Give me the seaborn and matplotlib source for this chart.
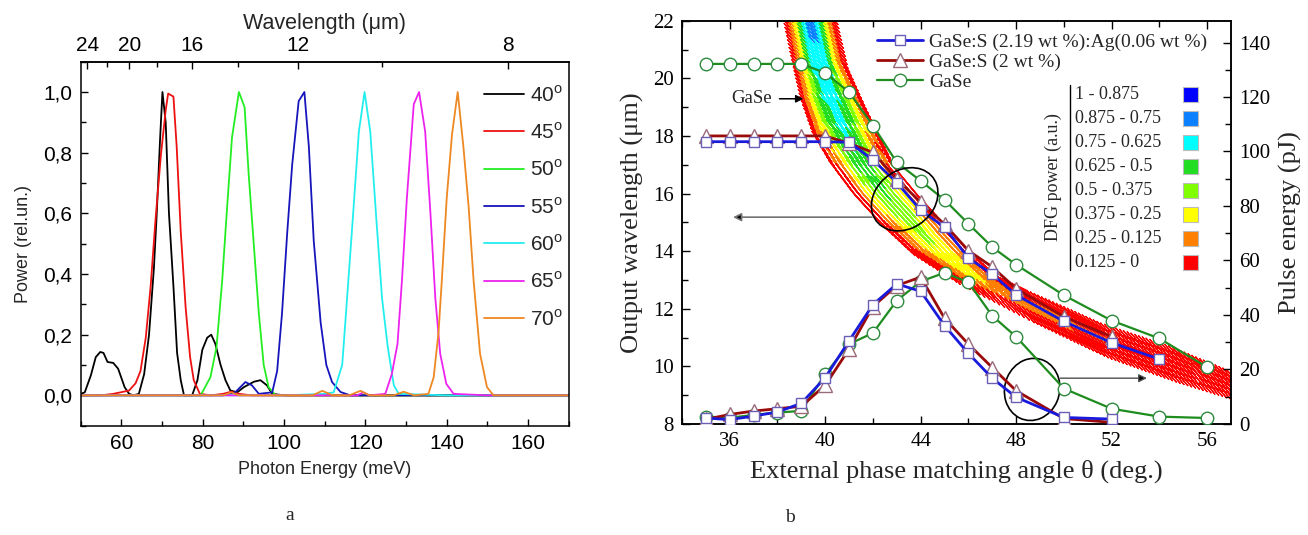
import numpy as np
import matplotlib
matplotlib.use("Agg")
import matplotlib.pyplot as plt
import seaborn as sns
from matplotlib.patches import Ellipse, Rectangle
from matplotlib.lines import Line2D
from matplotlib.ticker import MultipleLocator, FuncFormatter, FixedLocator

# ---------------- panel a: DFG spectra ----------------
angles_a = [40, 45, 50, 55, 60, 65, 70]
colors_a = ["#000000", "#ee1111", "#22ee22", "#1515bb", "#22eeee", "#ee22ee", "#ee8822"]

E40 = [50.0, 51.0, 52.5, 53.7, 54.8, 55.6, 56.6, 58.0, 59.2, 60.8, 61.9, 63.0, 64.3, 65.6, 66.8, 68.0,
       68.7, 69.5, 70.1, 70.9, 71.7, 72.8, 73.7, 74.6, 75.4, 77.4, 78.7, 79.9, 81.1, 82.1, 83.1, 84.4,
       85.6, 86.8, 88.5, 90.1, 92.6, 94.2, 95.8, 97.1, 100.0, 120.0, 140.0, 170.0]
P40 = [0.005, 0.01, 0.066, 0.126, 0.143, 0.14, 0.11, 0.107, 0.088, 0.027, 0.005, 0.0, 0.005, 0.07, 0.2, 0.42,
       0.6, 0.84, 1.0, 0.9, 0.6, 0.36, 0.14, 0.05, 0.0, 0.0, 0.05, 0.15, 0.19, 0.2, 0.17, 0.1,
       0.05, 0.016, 0.01, 0.027, 0.045, 0.05, 0.033, 0.005, 0.0, 0.0, 0.0, 0.0]

E45 = [50.0, 55.0, 58.0, 59.8, 61.9, 63.5, 64.7, 66.0, 67.2, 68.4, 69.7, 70.9, 71.5, 72.8, 73.6, 74.6,
       75.8, 76.9, 77.8, 79.3, 82.0, 85.0, 87.0, 89.0, 92.0, 100.0, 120.0, 140.0, 170.0]
P45 = [0.0, 0.0, 0.005, 0.01, 0.016, 0.04, 0.08, 0.19, 0.36, 0.58, 0.79, 0.94, 0.995, 0.985, 0.82, 0.54,
       0.29, 0.126, 0.05, 0.005, 0.0, 0.005, 0.012, 0.005, 0.0, 0.0, 0.0, 0.0, 0.0]

E50 = [50.0, 60.0, 70.0, 79.5, 81.9, 83.4, 84.8, 86.0, 87.2, 88.9, 90.3, 91.3, 92.6, 93.8, 95.0, 96.2,
       97.9, 110.0, 130.0, 150.0, 170.0]
P50 = [0.0, 0.0, 0.0, 0.0, 0.06, 0.16, 0.38, 0.62, 0.85, 1.0, 0.95, 0.73, 0.49, 0.27, 0.10, 0.027,
       0.0, 0.0, 0.0, 0.0, 0.0]

E55 = [50.0, 70.0, 85.0, 88.0, 90.5, 92.1, 93.8, 97.1, 98.3, 99.5, 100.8, 102.0, 103.6, 105.0, 106.1, 107.3,
       109.0, 110.4, 111.8, 113.9, 116.3, 130.0, 150.0, 170.0]
P55 = [0.0, 0.0, 0.0, 0.01, 0.044, 0.033, 0.005, 0.01, 0.08, 0.27, 0.54, 0.76, 0.97, 1.0, 0.82, 0.51,
       0.24, 0.10, 0.044, 0.011, 0.0, 0.0, 0.0, 0.0]

E60 = [50.0, 80.0, 100.0, 110.0, 112.2, 114.3, 115.5, 117.0, 118.4, 119.8, 121.2, 122.7, 124.1, 125.5,
       127.0, 128.2, 140.0, 170.0]
P60 = [0.0, 0.0, 0.0, 0.005, 0.01, 0.10, 0.32, 0.6, 0.87, 1.0, 0.87, 0.58, 0.32, 0.16,
       0.033, 0.005, 0.0, 0.0]

E65 = [50.0, 80.0, 100.0, 118.0, 119.5, 121.0, 124.9, 126.5, 127.9, 129.0, 130.2, 131.9, 133.2, 134.7,
       136.0, 137.2, 138.4, 139.9, 141.7, 150.0, 170.0]
P65 = [0.0, 0.0, 0.0, 0.0, 0.01, 0.0, 0.005, 0.07, 0.17, 0.38, 0.65, 0.96, 1.0, 0.87,
       0.6, 0.32, 0.137, 0.038, 0.005, 0.0, 0.0]

E70 = [50.0, 70.0, 85.0, 87.0, 89.0, 100.0, 107.0, 109.4, 112.0, 116.0, 118.8, 121.0, 127.0, 129.4, 132.0,
       135.5, 136.8, 138.0, 138.8, 140.0, 141.3, 142.7, 144.1, 145.4, 146.6, 148.2, 149.9, 151.5, 160.0, 170.0]
P70 = [0.0, 0.0, 0.0, 0.01, 0.0, 0.0, 0.0, 0.015, 0.0, 0.0, 0.015, 0.0, 0.0, 0.012, 0.0,
       0.005, 0.06, 0.21, 0.38, 0.65, 0.86, 1.0, 0.82, 0.62, 0.38, 0.137, 0.027, 0.0, 0.0, 0.0]

spectra_E = [E40, E45, E50, E55, E60, E65, E70]
spectra_P = [P40, P45, P50, P55, P60, P65, P70]

wl_major = [24, 20, 16, 12, 8]
wl_minor = [22, 18, 14, 10]

# ---------------- panel b: phase matching ----------------
theta_ag = [35, 36, 37, 38, 39, 40, 41, 42, 43, 44, 45, 46, 47, 48, 50, 52, 54]
wl_ag = [17.8, 17.8, 17.8, 17.8, 17.8, 17.8, 17.78, 17.17, 16.38, 15.42, 14.83, 13.76, 13.2, 12.48,
         11.56, 10.82, 10.25]
theta_s = [35, 36, 37, 38, 39, 40, 41, 42, 43, 44, 45, 46, 47, 48, 50, 52]
wl_s = [18.0, 18.0, 18.0, 18.0, 18.0, 18.0, 17.74, 17.43, 16.5, 15.7, 14.93, 14.02, 13.45, 12.7,
        11.72, 11.03]
theta_g = [35, 36, 37, 38, 39, 40, 41, 42, 43, 44, 45, 46, 47, 48, 50, 52, 54, 56]
wl_g = [20.5, 20.5, 20.5, 20.5, 20.5, 20.19, 19.52, 18.36, 17.08, 16.44, 15.78, 14.95, 14.14, 13.53,
        12.47, 11.59, 10.97, 9.97]

theta_ag_e = [35, 36, 37, 38, 39, 40, 41, 42, 43, 44, 45, 46, 47, 48, 50, 52]
pe_ag = [2.2, 1.6, 2.9, 4.4, 7.6, 17.0, 30.5, 43.8, 51.4, 48.7, 36.1, 25.9, 16.8, 9.8, 2.4, 1.8]
theta_s_e = [35, 36, 37, 38, 39, 40, 41, 42, 43, 44, 45, 46, 47, 48, 50, 52]
pe_s = [1.7, 3.5, 4.75, 5.6, 6.5, 14.2, 27.5, 43.1, 50.8, 53.9, 38.8, 29.3, 20.7, 12.2, 2.0, 0.6]
theta_g_e = [35, 36, 37, 38, 39, 40, 41, 42, 43, 44, 45, 46, 47, 48, 50, 52, 54, 56]
pe_g = [2.7, 2.3, 3.3, 4.2, 4.8, 18.3, 29.3, 33.4, 45.3, 52.3, 55.5, 52.0, 39.7, 32.0, 13.0, 5.6, 2.7, 2.2]

# calculated GaSe tuning band: paired edge points and peak DFG power along it
band_lo_theta = [38.3, 38.75, 39.1, 39.6, 40.3, 41.2, 42.3, 43.6, 45.5, 48.6, 51.7, 54.55, 57.3]
band_lo_wl = [22.3, 20.5, 19.2, 18.0, 17.0, 16.0, 15.0, 14.0, 13.0, 11.67, 10.45, 9.61, 8.9]
band_hi_theta = [40.3, 40.8, 41.5, 42.2, 42.8, 43.8, 44.9, 46.0, 47.3, 48.6, 51.7, 54.55, 57.3]
band_hi_wl = [22.3, 20.5, 19.2, 18.0, 17.0, 16.0, 15.0, 14.0, 13.0, 12.49, 11.35, 10.56, 9.62]
band_peak = [0.80, 0.76, 0.72, 0.66, 0.60, 0.53, 0.45, 0.37, 0.28, 0.20, 0.13, 0.09, 0.06]

dfg_labels = ["1 - 0.875", "0.875 - 0.75", "0.75 - 0.625", "0.625 - 0.5",
              "0.5 - 0.375", "0.375 - 0.25", "0.25 - 0.125", "0.125 - 0"]
dfg_colors = ["#0000ff", "#0a80ff", "#00ffff", "#22dd22", "#80ff00", "#ffff00", "#ff8000", "#ff0000"]

# ---------------- styling ----------------
sns.set_theme(style="ticks")
plt.rcParams["font.family"] = ["Liberation Sans", "DejaVu Sans"]
plt.rcParams["mathtext.fontset"] = "custom"
plt.rcParams["mathtext.rm"] = "Liberation Sans"
plt.rcParams["axes.edgecolor"] = "black"
plt.rcParams["axes.linewidth"] = 1.1
plt.rcParams["xtick.color"] = "black"
plt.rcParams["ytick.color"] = "black"
SERIF = "Liberation Serif"

fig = plt.figure(figsize=(13.08, 5.35), dpi=100)

# ===== panel a =====
axL = fig.add_axes([0.0617, 0.2043, 0.3731, 0.6804])
for ang, E, P, col in zip(angles_a, spectra_E, spectra_P, colors_a):
    sns.lineplot(x=E, y=P, ax=axL, color=col, lw=1.3, sort=False, estimator=None,
                 label=f"{ang}$^{{\\rm o}}$")
axL.set_xlim(50, 170)
axL.set_ylim(-0.1, 1.1)
axL.xaxis.set_major_locator(MultipleLocator(20))
axL.xaxis.set_minor_locator(MultipleLocator(10))
axL.yaxis.set_major_locator(MultipleLocator(0.2))
axL.yaxis.set_minor_locator(MultipleLocator(0.1))
axL.yaxis.set_major_formatter(FuncFormatter(lambda v, p: f"{v:.1f}".replace(".", ",").replace("-0,0", "0,0")))
axL.tick_params(which="both", direction="in", top=False, right=False, labelsize=15, pad=6)
axL.tick_params(which="major", length=5, width=1)
axL.tick_params(which="minor", length=3.5, width=1)
axL.set_xlabel("Photon Energy (meV)", fontsize=13, labelpad=6)
axL.set_ylabel("Power (rel.un.)", fontsize=13, labelpad=8)


def e_to_wl(e):
    e = np.asarray(e, dtype=float)
    with np.errstate(divide="ignore"):
        return 1239.84 / e


sec = axL.secondary_xaxis("top", functions=(e_to_wl, e_to_wl))
sec.set_xticks(wl_major)
sec.xaxis.set_minor_locator(FixedLocator(wl_minor))
sec.tick_params(which="both", direction="in", labelsize=15, pad=5)
sec.tick_params(which="major", length=5, width=1)
sec.tick_params(which="minor", length=3.5, width=1)
sec.set_xlabel("Wavelength (\u03bcm)", fontsize=15.5, labelpad=5)

axL.legend(loc="upper left", bbox_to_anchor=(0.81, 0.96), frameon=False, fontsize=15,
           handlelength=1.9, handletextpad=0.3, labelspacing=0.8, borderaxespad=0)

# ===== panel b =====
axR = fig.add_axes([0.5214, 0.2075, 0.4197, 0.7538])
axR.set_xlim(34, 57)
axR.set_ylim(8, 22)

# hatched colour band of the calculated tuning curve
tr = axR.transData
lo_d = np.column_stack([band_lo_theta, band_lo_wl])
hi_d = np.column_stack([band_hi_theta, band_hi_wl])
mid_px = tr.transform((lo_d + hi_d) / 2)
step_along, step_across = 4.0, 4.5
bx, by, bp = [], [], []
for k in range(len(lo_d) - 1):
    seg = np.hypot(*(mid_px[k + 1] - mid_px[k]))
    n = max(2, int(round(seg / step_along)))
    for t in np.arange(n) / n:
        a = lo_d[k] + t * (lo_d[k + 1] - lo_d[k])
        b = hi_d[k] + t * (hi_d[k + 1] - hi_d[k])
        pk = band_peak[k] + t * (band_peak[k + 1] - band_peak[k])
        w = np.hypot(*(tr.transform(b) - tr.transform(a)))
        m = max(3, int(round(w / step_across))) + 1
        u = np.linspace(0, 1, m)
        xy = a + np.outer(u, b - a)
        bx.extend(xy[:, 0]); by.extend(xy[:, 1])
        bp.extend(pk * (1 - np.abs(2 * u - 1) ** 1.4))
bp = np.array(bp)
lvl = np.clip((bp / 0.125).astype(int), 0, 7)
band_cols = [dfg_colors[7 - i] for i in lvl]
axR.scatter(bx, by, c=band_cols, marker=(2, 2, 40), s=70, linewidths=0.9, zorder=1)

blue, dred, green = "#1a1adc", "#9b0a0a", "#1e8c1e"
sq_edge, tri_edge, circ_edge = "#6b5fb5", "#9a6a7a", "#2e8b3e"
sty_ag = dict(color=blue, lw=2.0, marker="s", markersize=7, markerfacecolor="white",
              markeredgecolor=sq_edge, markeredgewidth=1.0)
sty_s = dict(color=dred, lw=2.0, marker="^", markersize=10, markerfacecolor="white",
             markeredgecolor=tri_edge, markeredgewidth=1.0)
sty_g = dict(color=green, lw=1.6, marker="o", markersize=9, markerfacecolor="white",
             markeredgecolor=circ_edge, markeredgewidth=1.0)

sns.lineplot(x=theta_g, y=wl_g, ax=axR, zorder=3, **sty_g)
sns.lineplot(x=theta_s, y=wl_s, ax=axR, zorder=3, **sty_s)
sns.lineplot(x=theta_ag, y=wl_ag, ax=axR, zorder=4, **sty_ag)

axE = axR.twinx()
axE.set_ylim(0, 148)
sns.lineplot(x=theta_g_e, y=pe_g, ax=axE, zorder=3, **sty_g)
sns.lineplot(x=theta_s_e, y=pe_s, ax=axE, zorder=3, **sty_s)
sns.lineplot(x=theta_ag_e, y=pe_ag, ax=axE, zorder=4, **sty_ag)

axR.xaxis.set_major_locator(MultipleLocator(4))
axR.xaxis.set_minor_locator(MultipleLocator(2))
axR.yaxis.set_major_locator(MultipleLocator(2))
axR.yaxis.set_minor_locator(MultipleLocator(1))
axE.yaxis.set_major_locator(MultipleLocator(20))
axE.yaxis.set_minor_locator(MultipleLocator(10))
axR.tick_params(which="both", direction="in", top=True, right=False, labelsize=15,
                labelfontfamily=SERIF, pad=6)
axR.tick_params(which="major", length=6, width=1)
axR.tick_params(which="minor", length=4, width=1)
axE.tick_params(which="both", direction="in", labelsize=15, labelfontfamily=SERIF, pad=6)
axE.tick_params(which="major", length=6, width=1)
axE.tick_params(which="minor", length=4, width=1)
axR.set_xlabel("External phase matching angle \u03b8 (deg.)", fontsize=19, family=SERIF, labelpad=6)
axR.set_ylabel("Output wavelength (\u03bcm)", fontsize=19, family=SERIF, labelpad=6)
axE.set_ylabel("Pulse energy (pJ)", fontsize=19, family=SERIF, labelpad=6)

# circled groups with arrows pointing to their axes
axR.add_patch(Ellipse((43.33, 15.8), 2.87, 2.09, angle=20, fill=False, ec="black", lw=1.2, zorder=5))
axR.add_patch(Ellipse((48.67, 9.2), 2.35, 2.13, angle=20, fill=False, ec="black", lw=1.2, zorder=5))
axR.annotate("", xy=(36.14, 15.18), xytext=(41.96, 15.18),
             arrowprops=dict(arrowstyle="-|>", fc="black", ec="0.45", lw=1.2, mutation_scale=12,
                             shrinkA=0, shrinkB=0), zorder=5)
axR.annotate("", xy=(53.48, 9.59), xytext=(49.85, 9.59),
             arrowprops=dict(arrowstyle="-|>", fc="black", ec="0.3", lw=1.0, mutation_scale=12,
                             shrinkA=0, shrinkB=0), zorder=5)
axR.annotate("GaSe", xy=(39.09, 19.29), xytext=(36.07, 19.29), va="center", ha="left",
             fontsize=13.5, family=SERIF,
             arrowprops=dict(arrowstyle="-|>", color="black", lw=1.1, mutation_scale=11,
                             shrinkA=3, shrinkB=0), zorder=5)

# series legend
handles = [Line2D([], [], **sty_ag), Line2D([], [], **sty_s), Line2D([], [], **sty_g)]
labels = ["GaSe:S (2.19 wt %):Ag(0.06 wt %)", "GaSe:S (2 wt %)", "GaSe"]
axE.legend(handles, labels, loc="upper left", bbox_to_anchor=(0.335, 0.995), frameon=False,
           prop=dict(family=SERIF, size=14), handlelength=2.4, handletextpad=0.3,
           labelspacing=0.12, borderaxespad=0.15)

# DFG power legend
row0, dy = 0.8159, 0.0595
for i, (lbl, col) in enumerate(zip(dfg_labels, dfg_colors)):
    yy = row0 - i * dy
    axE.text(0.716, yy, lbl, transform=axE.transAxes, va="center", ha="left",
             fontsize=13, family=SERIF)
    axE.add_patch(Rectangle((0.913, yy - 0.0185), 0.0273, 0.037, transform=axE.transAxes,
                            fc=col, ec="#bbbbbb", lw=0.8, zorder=6))
axE.add_line(Line2D([0.707, 0.707], [0.382, 0.841], transform=axE.transAxes, color="black", lw=1.0))
axE.text(0.676, 0.613, "DFG power (a.u.)", transform=axE.transAxes, rotation=90,
         ha="center", va="center", fontsize=13, family=SERIF)

fig.text(290 / 1308, 1 - 516 / 535, "a", ha="center", va="center", fontsize=14, family=SERIF)
fig.text(790 / 1308, 1 - 518 / 535, "b", ha="center", va="center", fontsize=14, family=SERIF)

fig.savefig("out.png", dpi=100)
